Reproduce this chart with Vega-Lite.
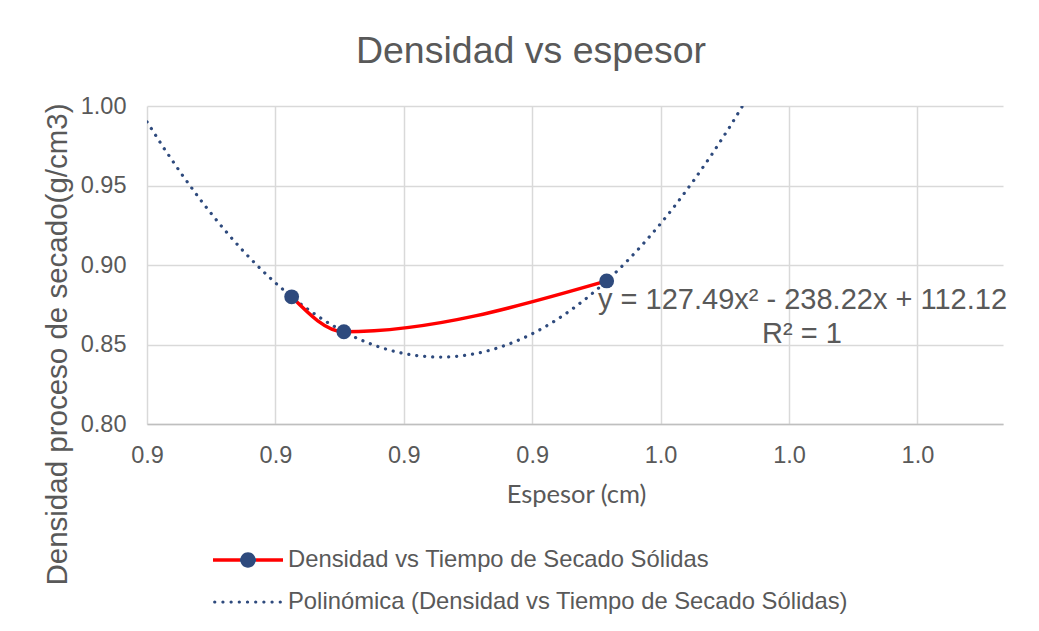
{
  "$schema": "https://vega.github.io/schema/vega-lite/v6.json",
  "width": 856,
  "height": 318,
  "autosize": {"type": "none"},
  "padding": {"left": 147, "top": 106, "right": 36, "bottom": 207},
  "background": "white",
  "title": {
    "text": "Densidad vs espesor",
    "font": "Liberation Sans",
    "fontSize": 37.5,
    "fontWeight": "normal",
    "color": "#595959",
    "anchor": "middle",
    "frame": "group",
    "dx": -44,
    "dy": 38,
    "baseline": "alphabetic",
    "offset": 32
  },
  "config": {
    "view": {"stroke": null},
    "font": "Liberation Sans"
  },
  "datasets": {
    "points": [
      {"x": 0.9169, "y": 0.880},
      {"x": 0.9230, "y": 0.858},
      {"x": 0.9537, "y": 0.890}
    ],
    "eq": [{"label": "y = 127.49x² - 238.22x + 112.12"}],
    "r2": [{"label": "R² = 1"}]
  },
  "layer": [
    {
      "data": {"name": "points"},
      "transform": [
        {"regression": "y", "on": "x", "method": "poly", "order": 2, "extent": [0.9, 1.0]}
      ],
      "mark": {"type": "line", "clip": true, "strokeWidth": 3.2, "strokeDash": [0.1, 7.9], "strokeCap": "round"},
      "encoding": {
        "x": {
          "field": "x",
          "type": "quantitative",
          "scale": {"domain": [0.9, 1.0], "nice": false, "zero": false},
          "axis": {
            "values": [0.9, 0.915, 0.93, 0.945, 0.96, 0.975, 0.99],
            "format": ".1f",
            "title": "Espesor (cm)",
            "titleFont": "Lato",
            "titleFontSize": 25.5,
            "titleFontWeight": "normal",
            "titleColor": "#595959",
            "titleX": 429,
            "titleY": 78,
            "titleBaseline": "alphabetic",
            "labelFont": "Liberation Sans",
            "labelFontSize": 23.5,
            "labelColor": "#595959",
            "labelPadding": 19,
            "labelFlush": false,
            "labelOverlap": false,
            "ticks": false,
            "domainColor": "#BFBFBF",
            "domainWidth": 1.5,
            "gridColor": "#D9D9D9",
            "gridWidth": 1.5
          }
        },
        "y": {
          "field": "y",
          "type": "quantitative",
          "scale": {"domain": [0.8, 1.0], "nice": false, "zero": false},
          "axis": {
            "values": [0.8, 0.85, 0.9, 0.95, 1.0],
            "format": ".2f",
            "title": "Densidad  proceso de secado(g/cm3)",
            "titleFont": "Liberation Sans",
            "titleFontSize": 29.5,
            "titleFontWeight": "normal",
            "titleColor": "#595959",
            "titleX": -81,
            "titleY": 238,
            "titleAngle": -90,
            "titleAlign": "center",
            "titleBaseline": "alphabetic",
            "labelFont": "Liberation Sans",
            "labelFontSize": 23.5,
            "labelColor": "#595959",
            "labelPadding": 21,
            "labelFlush": false,
            "ticks": false,
            "domain": false,
            "gridColor": "#D9D9D9",
            "gridWidth": 1.5
          }
        },
        "color": {
          "datum": "Polinómica (Densidad vs Tiempo de Secado Sólidas)",
          "scale": {
            "domain": ["Densidad vs Tiempo de Secado Sólidas", "Polinómica (Densidad vs Tiempo de Secado Sólidas)"],
            "range": ["#FF0000", "#2E4A7D"]
          },
          "legend": {
            "title": null,
            "orient": "none",
            "legendX": 66,
            "legendY": 442,
            "direction": "vertical",
            "padding": 0,
            "symbolSize": 4900,
            "symbolStrokeWidth": 0,
            "clipHeight": 24,
            "rowPadding": 18,
            "labelOffset": 5,
            "labelFont": "Liberation Sans",
            "labelFontSize": 23.8,
            "labelColor": "#595959",
            "labelLimit": 0,
            "symbolType": "M-1,0H1",
            "encode": {
              "symbols": {
                "update": {
                  "shape": {"signal": "datum.value[0] === 'D' ? 'M-1,-0.05H-0.2V0.05H-1Z M0.2,-0.05H1V0.05H0.2Z M-0.22,0A0.22,0.22 0 1,1 0.22,0A0.22,0.22 0 1,1 -0.22,0' : 'M-0.996,0a0.046,0.046 0 1,0 0.092,0a0.046,0.046 0 1,0 -0.092,0M-0.762,0a0.046,0.046 0 1,0 0.092,0a0.046,0.046 0 1,0 -0.092,0M-0.528,0a0.046,0.046 0 1,0 0.092,0a0.046,0.046 0 1,0 -0.092,0M-0.294,0a0.046,0.046 0 1,0 0.092,0a0.046,0.046 0 1,0 -0.092,0M-0.06,0a0.046,0.046 0 1,0 0.092,0a0.046,0.046 0 1,0 -0.092,0M0.174,0a0.046,0.046 0 1,0 0.092,0a0.046,0.046 0 1,0 -0.092,0M0.408,0a0.046,0.046 0 1,0 0.092,0a0.046,0.046 0 1,0 -0.092,0M0.642,0a0.046,0.046 0 1,0 0.092,0a0.046,0.046 0 1,0 -0.092,0M0.876,0a0.046,0.046 0 1,0 0.092,0a0.046,0.046 0 1,0 -0.092,0'"},
                  "fill": {"signal": "datum.value[0] === 'D' ? {gradient: 'linear', x1: 0, y1: 0, x2: 1, y2: 0, stops: [{offset: 0, color: '#FF0000'}, {offset: 0.385, color: '#FF0000'}, {offset: 0.385, color: '#2E4A7D'}, {offset: 0.615, color: '#2E4A7D'}, {offset: 0.615, color: '#FF0000'}, {offset: 1, color: '#FF0000'}]} : '#2E4A7D'"},
                  "opacity": {"value": 1}
                }
              }
            }
          }
        }
      }
    },
    {
      "data": {"name": "points"},
      "mark": {"type": "line", "interpolate": "monotone", "strokeWidth": 3.5},
      "encoding": {
        "x": {"field": "x", "type": "quantitative"},
        "y": {"field": "y", "type": "quantitative"},
        "color": {"datum": "Densidad vs Tiempo de Secado Sólidas"}
      }
    },
    {
      "data": {"name": "points"},
      "mark": {"type": "point", "filled": true, "size": 220, "opacity": 1, "color": "#2E4A7D"},
      "encoding": {
        "x": {"field": "x", "type": "quantitative"},
        "y": {"field": "y", "type": "quantitative"}
      }
    },
    {
      "data": {"name": "eq"},
      "mark": {"type": "text", "font": "Liberation Sans", "fontSize": 29, "color": "#595959", "align": "center", "baseline": "alphabetic"},
      "encoding": {
        "x": {"datum": 0.97658},
        "y": {"datum": 0.87233},
        "text": {"field": "label", "type": "nominal"}
      }
    },
    {
      "data": {"name": "r2"},
      "mark": {"type": "text", "font": "Liberation Sans", "fontSize": 29, "color": "#595959", "align": "center", "baseline": "alphabetic"},
      "encoding": {
        "x": {"datum": 0.97652},
        "y": {"datum": 0.85113},
        "text": {"field": "label", "type": "nominal"}
      }
    }
  ]
}
